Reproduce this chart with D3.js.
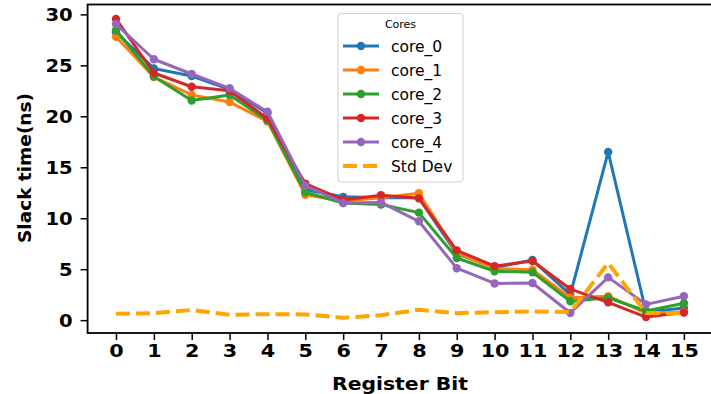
<!DOCTYPE html>
<html><head><meta charset="utf-8">
<script src="https://cdn.jsdelivr.net/npm/d3@7"></script>
<style>body{margin:0;background:#fff}svg{display:block}</style>
</head><body><svg id="c" width="711" height="394"></svg>
<script>
const bits = [0,1,2,3,4,5,6,7,8,9,10,11,12,13,14,15];
const core_0 = [28.25,24.7,23.95,22.65,20.3,12.8,12.1,12.0,12.0,6.5,5.15,5.9,2.5,16.5,0.8,1.2];
const core_1 = [27.8,23.85,22.1,21.4,19.5,12.3,11.7,12.0,12.45,6.6,5.05,4.95,2.2,2.35,0.7,0.8];
const core_2 = [28.45,23.9,21.55,22.1,19.6,12.55,11.5,11.35,10.55,6.1,4.8,4.7,1.85,2.2,0.9,1.65];
const core_3 = [29.55,24.25,22.9,22.5,19.8,13.4,11.8,12.25,11.95,6.85,5.3,5.8,3.05,1.75,0.3,0.75];
const core_4 = [29.05,25.6,24.15,22.75,20.45,13.2,11.5,11.55,9.7,5.1,3.6,3.65,0.7,4.2,1.55,2.35];
const stdDev = [0.62,0.68,1.0,0.53,0.59,0.56,0.23,0.49,1.02,0.69,0.78,0.85,0.8,5.6,0.7,0.68];
const seriesNames = ["core_0","core_1","core_2","core_3","core_4"];
const seriesColors = ["#1f77b4","#ff7f0e","#2ca02c","#d62728","#9467bd"];
const yTicks = [0,5,10,15,20,25,30];

const series = [core_0,core_1,core_2,core_3,core_4];
const svg = d3.select("#c");
const L=87.6, R=712.3, T=4.5, B=333;
const x = d3.scaleLinear().domain([-0.75,15.75]).range([L,R]);
const y = d3.scaleLinear().domain([-1.26,30.97]).range([B,T]);

const line = d3.line().x((d,i)=>x(bits[i])).y(d=>y(d));

series.forEach((s,k)=>{
  svg.append("path").datum(s).attr("d",line).attr("fill","none")
    .attr("stroke",seriesColors[k]).attr("stroke-width",3).attr("stroke-linejoin","round");
  svg.append("g").selectAll("circle").data(s).join("circle")
    .attr("cx",(d,i)=>x(bits[i])).attr("cy",d=>y(d)).attr("r",4.2).attr("fill",seriesColors[k]);
});
svg.append("path").datum(stdDev).attr("d",line).attr("fill","none")
  .attr("stroke","#ffa500").attr("stroke-width",4).attr("stroke-dasharray","14,6");

// frame
svg.append("rect").attr("x",L).attr("y",T).attr("width",R-L).attr("height",B-T)
  .attr("fill","none").attr("stroke","#000").attr("stroke-width",1.8);

const fontB = "'DejaVu Sans', sans-serif";
const xa = svg.append("g").attr("transform",`translate(0,${B})`)
  .call(d3.axisBottom(x).tickValues(bits).tickSize(7).tickPadding(4).tickFormat(d3.format("d")));
const ya = svg.append("g").attr("transform",`translate(${L},0)`)
  .call(d3.axisLeft(y).tickValues(yTicks).tickSize(7).tickPadding(7));
[xa,ya].forEach(a=>{
  a.select(".domain").remove();
  a.selectAll("line").attr("stroke","#000").attr("stroke-width",1.5);
  a.selectAll("text").attr("font-family",fontB).attr("font-weight","bold")
    .attr("font-size",18.5).attr("fill","#000");
});
xa.selectAll(".tick text").attr("transform","scale(1.12,1)");
ya.selectAll(".tick text").attr("transform","scale(1.06,1)");

svg.append("text").attr("x",332).attr("y",389.5)
  .attr("textLength",136).attr("lengthAdjust","spacingAndGlyphs")
  .attr("font-family",fontB).attr("font-weight","bold").attr("font-size",18.5).text("Register Bit");
svg.append("text").attr("transform","translate(31,168) rotate(-90)").attr("text-anchor","middle")
  .attr("font-family",fontB).attr("font-weight","bold").attr("font-size",18.5).text("Slack time(ns)");

// legend
const lg = svg.append("g");
lg.append("rect").attr("x",338).attr("y",13.5).attr("width",125).attr("height",168.5).attr("rx",3)
  .attr("fill","#fff").attr("fill-opacity",0.8).attr("stroke","#d0d0d0").attr("stroke-width",1);
lg.append("text").attr("x",400.5).attr("y",28).attr("text-anchor","middle")
  .attr("font-family",fontB).attr("font-size",11).text("Cores");
const names = seriesNames.concat(["Std Dev"]);
names.forEach((n,i)=>{
  const yy = 46 + i*24;
  if(i<5){
    lg.append("line").attr("x1",343).attr("x2",379).attr("y1",yy).attr("y2",yy)
      .attr("stroke",seriesColors[i]).attr("stroke-width",3);
    lg.append("circle").attr("cx",361).attr("cy",yy).attr("r",4.2).attr("fill",seriesColors[i]);
  } else {
    lg.append("line").attr("x1",343).attr("x2",379).attr("y1",yy).attr("y2",yy)
      .attr("stroke","#ffa500").attr("stroke-width",4).attr("stroke-dasharray","14,6");
  }
  lg.append("text").attr("x",391).attr("y",yy+5.5).attr("font-family",fontB)
    .attr("font-size",15.5).text(n);
});
</script></body></html>
